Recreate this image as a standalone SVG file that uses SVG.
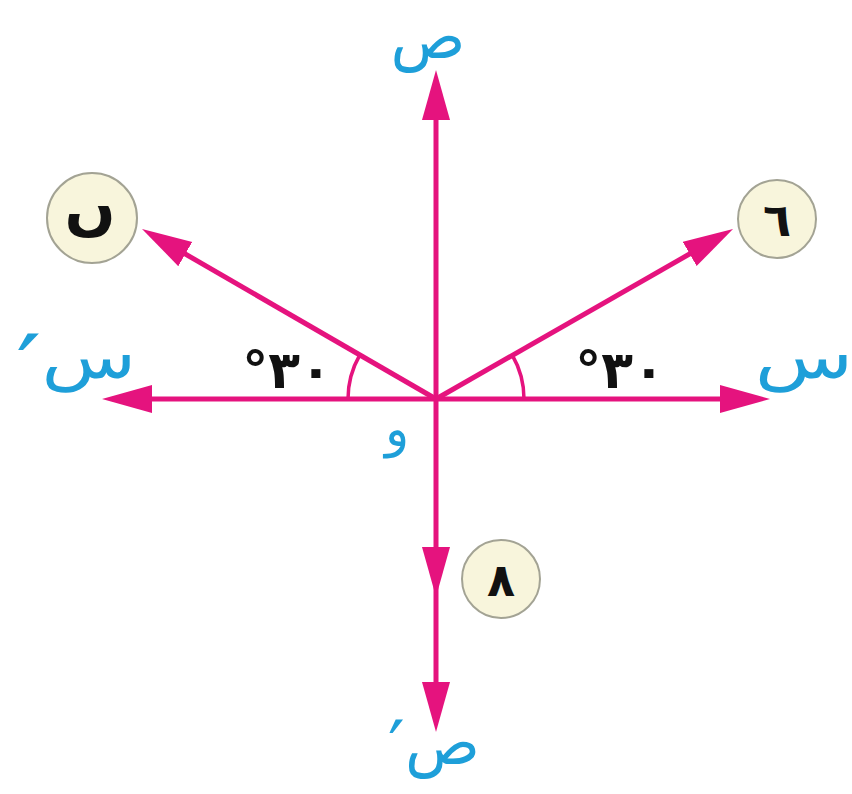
<svg xmlns="http://www.w3.org/2000/svg" width="852" height="794" viewBox="0 0 852 794">
<style>
.ax{fill:none;stroke:#e5137e;stroke-width:5}
.arc{fill:none;stroke:#e5137e;stroke-width:3.5}
.lbl{fill:#1e9fd9;font-family:"DejaVu Sans",sans-serif;font-size:62px}
.pr{font-size:90px}
.circ{fill:#f8f5dc;stroke:#a3a394;stroke-width:2}
.num{fill:#111;font-family:"DejaVu Sans",sans-serif;font-weight:bold;font-size:46px;text-anchor:middle}
.ang{fill:#111;font-family:"DejaVu Sans",sans-serif;font-weight:bold;font-size:52px}
</style>
<defs>
<marker id="ah" markerUnits="userSpaceOnUse" markerWidth="52" markerHeight="30" refX="20" refY="15" orient="auto">
<path d="M0,1 L50,15 L0,29 Z" fill="#e5137e"/>
</marker>
</defs>
<rect width="852" height="794" fill="#fff"/>
<g id="connectors">
<path class="ax" d="M436,399 L132,399" marker-end="url(#ah)"/>
<path class="ax" d="M436,399 L740,399" marker-end="url(#ah)"/>
<path class="ax" d="M436,399 L436,100" marker-end="url(#ah)"/>
<path class="ax" d="M436,399 L436,567 L436,702" marker-mid="url(#ah)" marker-end="url(#ah)"/>
<path class="ax" d="M436,399 L168,244" marker-end="url(#ah)"/>
<path class="ax" d="M436,399 L707,244" marker-end="url(#ah)"/>
<path class="arc" d="M348,399 A88,88 0 0 1 359.8,355"/>
<path class="arc" d="M524,399 A88,88 0 0 0 512.2,355"/>
</g>
<g id="label-y"><text class="lbl" x="428" y="58" text-anchor="middle">ص</text></g>
<g id="label-y2"><text class="lbl" x="434" y="764" text-anchor="middle" style="direction:rtl;unicode-bidi:embed">ص<tspan style="font-size:74px" dy="10">′</tspan></text></g>
<g id="label-x" transform="translate(804,378) scale(1.3,1)"><text class="lbl" x="0" y="0" text-anchor="middle">س</text></g>
<g id="label-x2" transform="translate(76,378) scale(1.25,1)"><text class="lbl" x="0" y="0" text-anchor="middle" style="direction:rtl;unicode-bidi:embed">س<tspan class="pr" dy="22">′</tspan></text></g>
<g id="label-o"><text class="lbl" x="397" y="446" text-anchor="middle" style="font-size:50px">و</text></g>
<g id="angle-left"><text class="ang" x="287" y="388" text-anchor="middle">°٣٠</text></g>
<g id="angle-right"><text class="ang" x="620" y="388" text-anchor="middle">°٣٠</text></g>
<g id="node-q"><circle class="circ" cx="92" cy="218" r="45"/><text class="num" x="90" y="228" style="font-size:60px">ں</text></g>
<g id="node-6"><circle class="circ" cx="777" cy="219" r="39"/><text class="num" x="777" y="236">٦</text></g>
<g id="node-8"><circle class="circ" cx="501" cy="579" r="39"/><text class="num" x="501" y="596">٨</text></g>
</svg>
